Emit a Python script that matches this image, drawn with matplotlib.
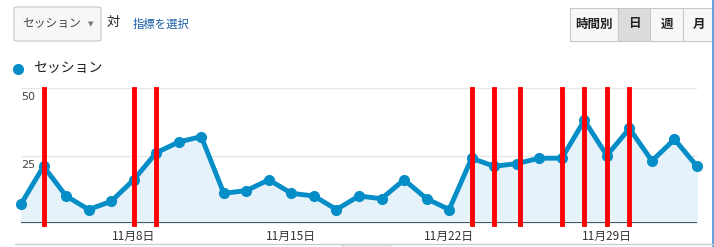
"""Sessions line chart (Google Analytics style) with event markers"""

import datetime as dt
import matplotlib
matplotlib.use("Agg")
import matplotlib.pyplot as plt
from matplotlib.patches import FancyBboxPatch, Rectangle
from matplotlib.lines import Line2D

plt.rcParams['font.family'] = ['Noto Sans CJK JP', 'DejaVu Sans']

# daily sessions, Nov 3 .. Dec 3
start_day = dt.date(2020, 11, 3)
sessions = [7, 21, 10, 5, 8, 16, 26, 30, 32, 11,
            12, 16, 11, 10, 5, 10, 9, 16, 9, 5,
            24, 21, 22, 24, 24, 38, 25, 35, 23, 31, 21]
days = [start_day + dt.timedelta(days=i) for i in range(len(sessions))]

# red event markers
event_days = [dt.datetime(2020, 11, 4), dt.datetime(2020, 11, 8),
              dt.datetime(2020, 11, 9), dt.datetime(2020, 11, 23),
              dt.datetime(2020, 11, 24), dt.datetime(2020, 11, 25, 3),
              dt.datetime(2020, 11, 27), dt.datetime(2020, 11, 28),
              dt.datetime(2020, 11, 29), dt.datetime(2020, 11, 30)]

tick_days = [dt.date(2020, 11, d) for d in (8, 15, 22, 29)]
tick_labels = ["11月8日", "11月15日", "11月22日", "11月29日"]
y_ticks = [25, 50]

W, H = 714, 247
fig = plt.figure(figsize=(W / 100, H / 100), dpi=100)


def fx(x):
    return x / W


def fy(y):
    return 1 - y / H


line_color = "#058dc7"

# ---- top controls ----
fig.patches.append(FancyBboxPatch((fx(14), fy(41)), fx(87), 34 / H,
                                  boxstyle="round,pad=0,rounding_size=0.006",
                                  transform=fig.transFigure, fc="#f7f7f7",
                                  ec="#c8c8c8", lw=0.8))
fig.text(fx(22), fy(24), "セッション", fontsize=8.5, color="#444444", va="center")
fig.text(fx(91), fy(24), "▼", fontsize=5, color="#777777", va="center",
         ha="center", family="DejaVu Sans")
fig.text(fx(107), fy(22), "対", fontsize=9.5, color="#222222", va="center")
fig.text(fx(133), fy(24), "指標を選択", fontsize=8.2, color="#1a5fa6", va="center")

buttons = [("時間別", 570, 618), ("日", 618, 650), ("週", 650, 683), ("月", 683, 714)]
for label, x0, x1 in buttons:
    fc = "#dcdcdc" if label == "日" else "#f7f7f7"
    fig.patches.append(Rectangle((fx(x0), fy(41)), fx(x1 - x0), 33 / H,
                                 transform=fig.transFigure, fc=fc,
                                 ec="#c8c8c8", lw=0.8))
    fig.text(fx((x0 + x1) / 2), fy(24), label, fontsize=9, color="#222222",
             ha="center", va="center", fontweight="bold")
fig.lines.append(Line2D([fx(713), fx(713)], [0, 1], transform=fig.transFigure,
                        color="#4a90d9", lw=1.2))

# legend
fig.lines.append(Line2D([fx(18)], [fy(69)], transform=fig.transFigure,
                        marker="o", ms=7, color=line_color))
fig.text(fx(33), fy(68), "セッション", fontsize=10, color="#222222", va="center")

# bottom grey line and tab
fig.lines.append(Line2D([fx(15), fx(713)], [fy(244), fy(244)],
                        transform=fig.transFigure, color="#cccccc", lw=1))
fig.patches.append(Rectangle((fx(342), fy(247)), fx(48), 3 / H,
                             transform=fig.transFigure, fc="#eeeeee",
                             ec="#cccccc", lw=0.8))

# ---- chart ----
ax = fig.add_axes([fx(21), fy(223), fx(676), 135 / H])
ax.set_xlim(days[0], days[-1])
ax.set_ylim(0, 50)

for y in y_ticks:
    ax.axhline(y, color="#e6e6e6", lw=1, zorder=0)
    ax.text(days[0] + dt.timedelta(hours=8), y - 1.5, str(y), fontsize=8,
            color="#444444", va="top", ha="left", family="DejaVu Sans")

ax.fill_between(days, sessions, 0, color="#e6f2f9", zorder=1)
ax.plot(days, sessions, color=line_color, lw=3.5, marker="o", ms=7,
        zorder=3, clip_on=False, solid_joinstyle="round")

for d in event_days:
    ax.axvline(d, ymin=-0.01, ymax=0.995, color="#ff0000", lw=3.5,
               zorder=4, clip_on=False)

ax.axhline(0, color="#333333", lw=1.2, zorder=2)

ax.set_xticks(tick_days)
ax.set_xticklabels(tick_labels, fontsize=8.5, color="#333333")
ax.tick_params(axis="x", length=0, pad=5)
ax.set_yticks([])
for side in ax.spines.values():
    side.set_visible(False)

fig.savefig("out.png", dpi=100)
